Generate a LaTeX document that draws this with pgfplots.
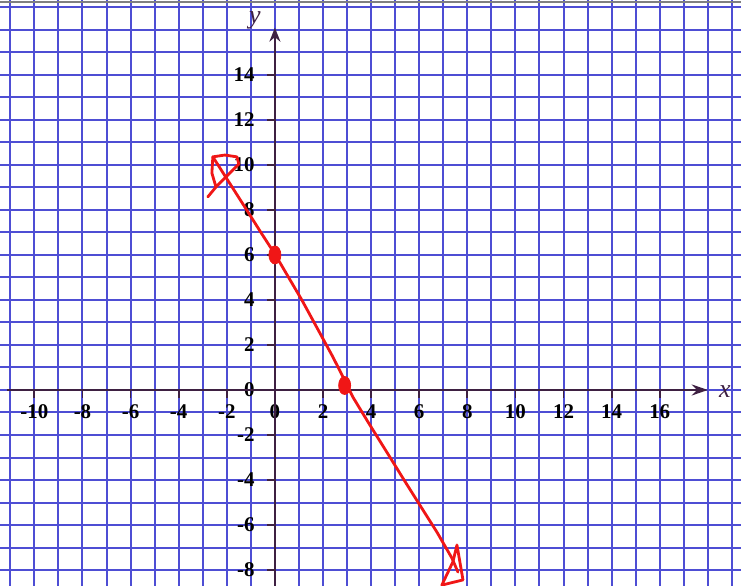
\documentclass[border=0pt]{standalone}
\usepackage{fontspec}
\setmainfont{Liberation Serif}
\usepackage{pgfplots}
\pgfplotsset{compat=1.18}
\usetikzlibrary{arrows.meta}
\definecolor{gridblue}{RGB}{78,78,212}
\definecolor{axisdark}{RGB}{62,32,66}
\definecolor{penred}{RGB}{240,22,22}

\begin{document}
\begin{tikzpicture}
\begin{axis}[
  scale only axis, width=370.5bp, height=293bp,
  xmin=-11.43, xmax=19.38, ymin=-8.71, ymax=17.33,
  axis lines=middle, axis line style={draw=none},
  axis background/.style={fill=white},
  xtick={-10,-8,...,16},
  xticklabels={-10,-8,-6,-4,-2,0,2,4,6,8,10,12,14,16},
  ytick={-8,-6,...,14},
  yticklabels={-8,-6,-4,-2,0,2,4,6,8,10,12,14},
  minor xtick={-11,...,19}, minor ytick={-8,...,17},
  grid=both,
  major grid style={gridblue, line width=1bp},
  minor grid style={gridblue, line width=1bp},
  minor tick length=0pt, major tick length=4bp,
  tick style={axisdark, line width=0.9bp},
  xtick align=outside, ytick align=outside,
  hide obscured x ticks=false, hide obscured y ticks=false,
  ticklabel style={font=\fontsize{10.5}{11}\selectfont\bfseries, inner sep=0pt},
  xticklabel style={anchor=center, yshift=-7bp},
  yticklabel style={anchor=east, xshift=-6bp},
]
% axes with arrow tips
\addplot[axisdark, line width=1.1bp, -{Stealth[length=8bp, width=5.5bp]}]
  coordinates {(-11.15,0) (18.0,0)};
\addplot[axisdark, line width=1.1bp, -{Stealth[length=7bp, width=5.5bp]}]
  coordinates {(0,-8.71) (0,16.1)};

% hand-drawn line
\addplot[penred, line width=1.4bp, line join=round, line cap=round] coordinates {
  (-2.58,10.36) (-1.25,8.13) (-0.54,6.93) (0,6.04) (1.12,4.00) (1.87,2.53)
  (2.41,1.47) (2.83,0.58) (3.24,-0.31) (3.87,-1.42) (4.78,-2.98) (5.40,-4.05)
  (6.03,-5.12) (6.74,-6.32) (7.36,-7.47) (7.61,-8.09)
};
% arrowhead at the upper end
\addplot[penred, line width=1.4bp, line join=round, line cap=round] coordinates {
  (-2.79,8.58) (-2.45,9.02) (-2.62,9.64) (-2.58,10.36) (-2.08,10.44)
  (-1.58,10.36) (-1.50,10.04) (-1.95,9.56) (-2.45,9.02)
};
% arrowhead at the lower end
\addplot[penred, line width=1.4bp, line join=round, line cap=round] coordinates {
  (7.57,-6.89) (7.82,-8.44) (6.94,-8.67) (7.40,-7.64) (7.57,-6.89)
};
% intercepts
\addplot[only marks, mark=*, mark size=3bp, mark options={penred, fill=penred, yscale=1.5}]
  coordinates {(0,6) (2.9,0.2)};

\node[font=\fontsize{13}{13}\selectfont\itshape, text=axisdark] at (axis cs:18.71,-0.09) {x};
\node[font=\fontsize{13}{13}\selectfont\itshape, text=axisdark] at (axis cs:-0.83,16.44) {y};
\draw[gray, line width=1bp] (rel axis cs:0,0.996) -- (rel axis cs:1,0.996);
\end{axis}
\pgfresetboundingbox
\path (current axis.south west) rectangle (current axis.north east);
\end{tikzpicture}
\end{document}
